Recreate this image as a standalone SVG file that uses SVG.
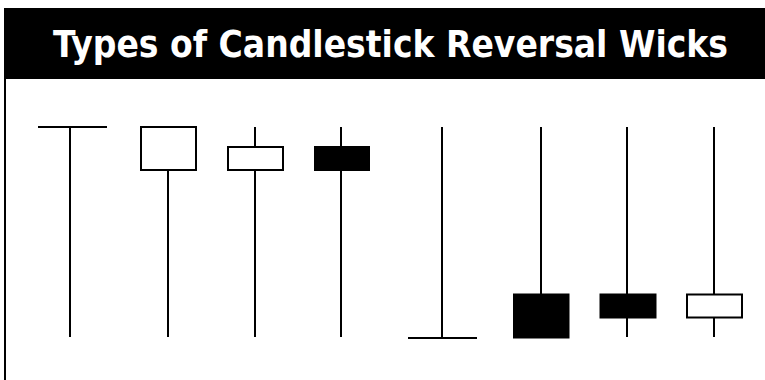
<svg xmlns="http://www.w3.org/2000/svg" width="765" height="380" viewBox="0 0 765 380">
<style>
.w{stroke:#000;stroke-width:2;fill:none}
.o{stroke:#000;stroke-width:2;fill:#fff}
.f{stroke:#000;stroke-width:1;fill:#000}
.t{font-family:"DejaVu Sans Condensed","DejaVu Sans","Liberation Sans",sans-serif;font-weight:bold;font-size:38px;fill:#fff}
</style>
<rect x="0" y="0" width="765" height="380" fill="#fff"/>
<g id="frame">
<rect x="4" y="8" width="761" height="71" fill="#000"/>
<line class="w" x1="5" y1="79" x2="5" y2="380"/>
<text class="t" x="53" y="57" textLength="675" lengthAdjust="spacingAndGlyphs">Types of Candlestick Reversal Wicks</text>
</g>
<g id="connectors">
<line class="w" x1="70" y1="127" x2="70" y2="337"/>
<line class="w" x1="168" y1="170" x2="168" y2="337"/>
<line class="w" x1="255" y1="127" x2="255" y2="337"/>
<line class="w" x1="341" y1="127" x2="341" y2="337"/>
<line class="w" x1="442" y1="127" x2="442" y2="338"/>
<line class="w" x1="541" y1="127" x2="541" y2="294"/>
<line class="w" x1="627" y1="127" x2="627" y2="337"/>
<line class="w" x1="714" y1="127" x2="714" y2="337"/>
</g>
<g id="c1"><line class="w" x1="38" y1="127" x2="107" y2="127"/></g>
<g id="c2"><rect class="o" x="141" y="127" width="55" height="43"/></g>
<g id="c3"><rect class="o" x="228" y="147" width="55" height="23"/></g>
<g id="c4"><rect class="f" x="314.5" y="146.5" width="55" height="24"/></g>
<g id="c5"><line class="w" x1="408" y1="338" x2="477" y2="338"/></g>
<g id="c6"><rect class="f" x="513.5" y="294" width="55.5" height="44"/></g>
<g id="c7"><rect class="f" x="600" y="294" width="56" height="24"/></g>
<g id="c8"><rect class="o" x="687" y="294.5" width="55" height="23"/></g>
</svg>
